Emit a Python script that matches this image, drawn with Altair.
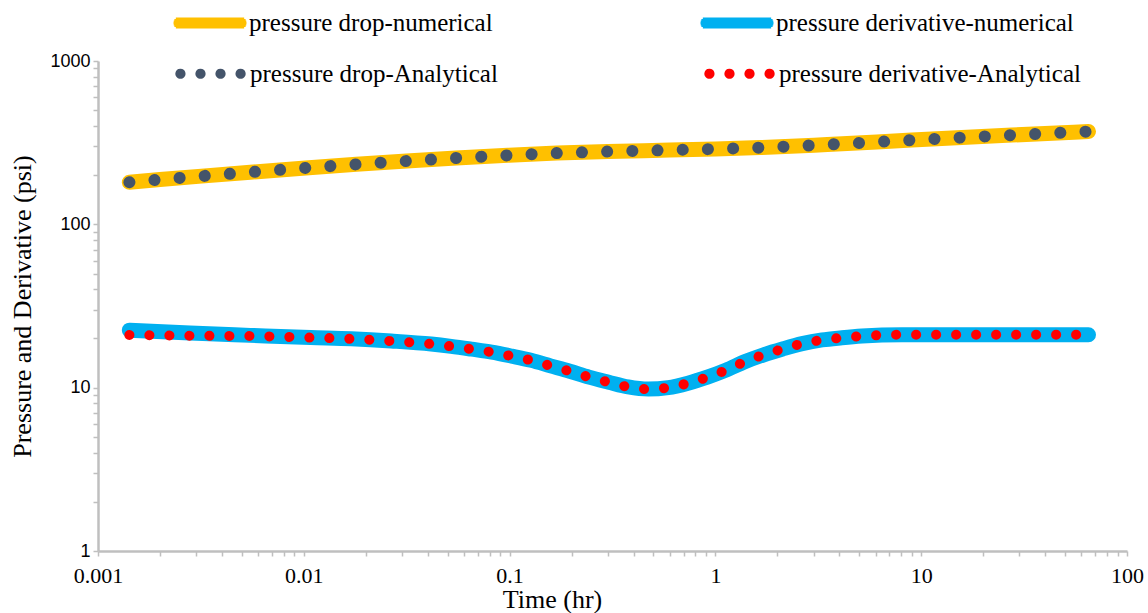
import altair as alt
import pandas as pd

# Pressure drop readings (psi) against time (hr)
drop_time = [0.00142, 0.002, 0.0033, 0.0055, 0.0102, 0.018, 0.0316, 0.055, 0.098,
             0.17, 0.3, 0.6, 1.0, 1.65, 3.5, 9.0, 27.6, 65]
drop_numerical = [181, 188, 198, 208.5, 221.5, 233, 244, 254.5, 264.5,
                  273, 279, 285, 289.5, 295, 308, 328, 352, 370]
drop_analytical = [181, 188, 198, 208.5, 221.5, 233, 244, 254.5, 264.5,
                   273, 279, 285, 289.5, 295, 308, 328, 352, 370]

# Pressure derivative readings (psi) against time (hr)
deriv_time = [0.00142, 0.0028, 0.0055, 0.0108, 0.017, 0.0266, 0.0416, 0.052, 0.0654,
              0.0818, 0.1024, 0.127, 0.158, 0.196, 0.243, 0.303, 0.377, 0.472, 0.59,
              0.736, 0.914, 1.126, 1.387, 1.717, 2.12, 2.64, 3.3, 4.12, 5.16, 6.45,
              8.07, 15, 30, 65]
deriv_numerical = [22.5, 21.6, 20.9, 20.25, 19.9, 19.3, 18.5, 17.9, 17.2,
                   16.5, 15.6, 14.7, 13.6, 12.6, 11.6, 10.8, 10.1, 9.8, 10.0,
                   10.65, 11.6, 12.8, 14.4, 15.9, 17.25, 18.6, 19.6, 20.2, 20.7, 21.0,
                   21.1, 21.1, 21.1, 21.1]
deriv_analytical = [21.0, 20.8, 20.7, 20.25, 19.9, 19.3, 18.5, 17.9, 17.2,
                    16.5, 15.6, 14.7, 13.6, 12.6, 11.6, 10.8, 10.1, 9.8, 10.0,
                    10.65, 11.6, 12.8, 14.4, 15.9, 17.25, 18.6, 19.6, 20.2, 20.7, 21.0,
                    21.1, 21.1, 21.1, 21.1]

numerical_names = ["pressure drop-numerical", "pressure derivative-numerical"]
numerical_colors = ["#FFC000", "#00B0F0"]
analytical_names = ["pressure drop-Analytical", "pressure derivative-Analytical"]
analytical_colors = ["#44546A", "#FF0000"]

x_major = [0.001, 0.01, 0.1, 1, 10, 100]
x_labels = ["0.001", "0.01", "0.1", "1", "10", "100"]
y_major = [1, 10, 100, 1000]
y_labels = ["1", "10", "100", "1000"]

x_ticks = [round(m * d, 6) for d in x_major[:-1] for m in range(1, 10)] + [100]
y_ticks = [m * d for d in y_major[:-1] for m in range(1, 10)] + [1000]

frames = []
for name, t, v in [(numerical_names[0], drop_time, drop_numerical),
                   (numerical_names[1], deriv_time, deriv_numerical),
                   (analytical_names[0], drop_time, drop_analytical),
                   (analytical_names[1], deriv_time, deriv_analytical)]:
    frames.append(pd.DataFrame({"t": t, "value": v, "series": name}))
df = pd.concat(frames, ignore_index=True)

SERIF = "Liberation Serif"
AXIS_GRAY = "#BFBFBF"


def label_expr(labels):
    arr = "[" + ",".join("'%s'" % s for s in labels) + "]"
    return "indexof(%s, format(datum.value, '~g')) >= 0 ? format(datum.value, '~g') : ''" % arr


# Legend glyphs drawn in the unit square (scaled by half the symbol length).
# Four dots: small circles whose thick outline fills them in.
def disc(cx, r):
    return "M%.4f,0A%.4f,%.4f 0 1,0 %.4f,0A%.4f,%.4f 0 1,0 %.4f,0Z" % (
        cx - r, r, r, cx + r, r, r, cx - r)


DOTS_GLYPH = "".join(disc(c, 0.0839) for c in (-0.97, -0.323, 0.323, 0.97))

# Bar with rounded ends: thin horizontal strokes stacked into a stadium shape
BAR_ROWS = [(-0.145, 0.102), (-0.0968, 0.149), (-0.0484, 0.171), (0.0, 0.177),
            (0.0484, 0.171), (0.0968, 0.149), (0.145, 0.102)]
BAR_GLYPH = "".join("M%.4f,%.4fL%.4f,%.4f" % (-1 - e, y, 1 + e, y) for y, e in BAR_ROWS)

x_enc = alt.X(
    "t:Q",
    scale=alt.Scale(type="log", domain=[0.001, 100]),
    axis=alt.Axis(
        values=x_ticks, labelExpr=label_expr(x_labels), labelOverlap=False, labelFlush=False,
        title="Time (hr)", titleFont=SERIF, titleFontSize=26, titleFontWeight="normal",
        titleColor="black", titleX=454, titlePadding=0,
        labelFont=SERIF, labelFontSize=22, labelColor="black", labelPadding=9,
        grid=False, domainColor=AXIS_GRAY, domainWidth=2.5,
        tickColor=AXIS_GRAY, tickWidth=1.5, tickSize=5,
    ),
)
y_enc = alt.Y(
    "value:Q",
    scale=alt.Scale(type="log", domain=[1, 1000]),
    axis=alt.Axis(
        values=y_ticks, labelExpr=label_expr(y_labels), labelOverlap=False, labelFlush=False,
        title="Pressure and Derivative (psi)", titleFont=SERIF, titleFontSize=26,
        titleFontWeight="normal", titleColor="black", titlePadding=14,
        labelFont="Liberation Sans", labelFontSize=18, labelColor="black", labelPadding=3,
        grid=False, domainColor=AXIS_GRAY, domainWidth=2.5,
        tickColor=AXIS_GRAY, tickWidth=1.5, tickSize=5,
    ),
)


def series_legend(x, y, glyph, stroke_width, label_offset, col_pad):
    return alt.Legend(
        orient="none", legendX=x, legendY=y, columns=2, direction="horizontal",
        title=None, symbolType=glyph, symbolSize=3844, symbolStrokeWidth=stroke_width,
        symbolDash=[1, 0], labelFont=SERIF, labelFontSize=25, labelColor="black",
        labelLimit=400, labelOffset=label_offset, columnPadding=col_pad, padding=0,
    )


color_enc = alt.Color(
    "series:N",
    scale=alt.Scale(domain=numerical_names, range=numerical_colors),
    legend=series_legend(80, -70, BAR_GLYPH, 2, 7, 203),
)
stroke_enc = alt.Stroke(
    "series:N",
    scale=alt.Scale(domain=analytical_names, range=analytical_colors),
    legend=series_legend(79, -21, DOTS_GLYPH, 5, 6, 198),
)

base = alt.Chart(df)

numerical = base.mark_line(strokeWidth=15, strokeCap="round", interpolate="monotone").encode(
    x=x_enc, y=y_enc, color=color_enc
).transform_filter(
    alt.FieldOneOfPredicate(field="series", oneOf=numerical_names)
)
drop_dots = base.mark_line(strokeWidth=12, strokeCap="round", strokeDash=[0.1, 25.1],
                           interpolate="monotone").encode(
    x=x_enc, y=y_enc, stroke=stroke_enc
).transform_filter(alt.datum.series == analytical_names[0])
deriv_dots = base.mark_line(strokeWidth=10, strokeCap="round", strokeDash=[0.1, 19.9],
                            interpolate="monotone").encode(
    x=x_enc, y=y_enc, stroke=stroke_enc
).transform_filter(alt.datum.series == analytical_names[1])

chart = alt.layer(numerical, drop_dots, deriv_dots).properties(
    width=1029, height=490,
    autosize=alt.AutoSizeParams(type="none"),
    padding={"left": 98, "top": 61, "right": 21, "bottom": 62},
    background="white",
).configure_view(stroke=None)

chart.save("out.html", embed_options={"renderer": "svg", "actions": False})
